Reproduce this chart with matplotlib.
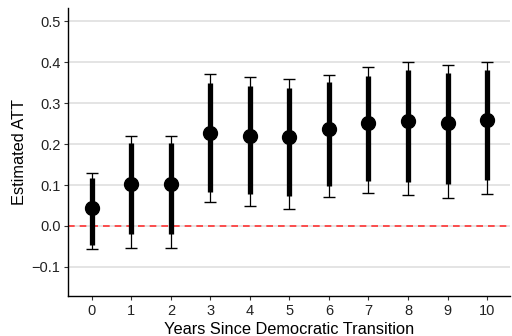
import numpy as np
import matplotlib.pyplot as plt

plt.rcParams['font.family'] = ['Liberation Sans', 'DejaVu Sans']

years = [0, 1, 2, 3, 4, 5, 6, 7, 8, 9, 10]
att = [0.044, 0.102, 0.102, 0.226, 0.220, 0.216, 0.237, 0.251, 0.256, 0.251, 0.258]
ci90_lo = [-0.047, -0.020, -0.020, 0.084, 0.078, 0.073, 0.098, 0.110, 0.107, 0.102, 0.112]
ci90_hi = [0.117, 0.203, 0.203, 0.349, 0.341, 0.337, 0.351, 0.366, 0.380, 0.373, 0.380]
ci95_lo = [-0.056, -0.053, -0.053, 0.058, 0.049, 0.042, 0.071, 0.080, 0.076, 0.068, 0.078]
ci95_hi = [0.129, 0.220, 0.220, 0.371, 0.363, 0.359, 0.368, 0.388, 0.400, 0.393, 0.400]

yticks = [-0.1, 0.0, 0.1, 0.2, 0.3, 0.4, 0.5]

fig = plt.figure(figsize=(5.12, 3.36), dpi=100)
ax = fig.add_axes([0.133, 0.119, 0.863, 0.857])

x = np.array(years)
att = np.array(att)

# grid + zero reference line
for t in yticks:
    ax.axhline(t, color='#dddddd', lw=1.1, zorder=0)
ax.axhline(0, color='#ff3333', lw=1.2, ls=(0, (4, 3)), zorder=1)

# wide interval (thin line with caps)
ax.errorbar(x, att, yerr=[att - np.array(ci95_lo), np.array(ci95_hi) - att],
            fmt='none', ecolor='black', elinewidth=0.9, capsize=4, capthick=1.0, zorder=2)
# narrow interval (thick bar)
ax.vlines(x, ci90_lo, ci90_hi, color='black', lw=3.8, zorder=3)
ax.plot(x, att, 'o', color='black', ms=10, zorder=4)

ax.set_xlim(-0.6, 10.58)
ax.set_ylim(-0.171, 0.532)
ax.set_xticks(years)
ax.set_yticks(yticks)
ax.set_yticklabels(['\u22120.1', '0.0', '0.1', '0.2', '0.3', '0.4', '0.5'])
ax.tick_params(labelsize=10.5, colors='#333333', length=3, width=0.8, pad=2.5)
ax.tick_params(axis='both', labelcolor='#222222')

for s in ['top', 'right']:
    ax.spines[s].set_visible(False)
for s in ['left', 'bottom']:
    ax.spines[s].set_linewidth(1.0)
    ax.spines[s].set_color('black')

ax.set_xlabel('Years Since Democratic Transition', fontsize=11.8, labelpad=3)
ax.set_ylabel('Estimated ATT', fontsize=11.8, labelpad=3)

fig.savefig('out.png', dpi=100)
